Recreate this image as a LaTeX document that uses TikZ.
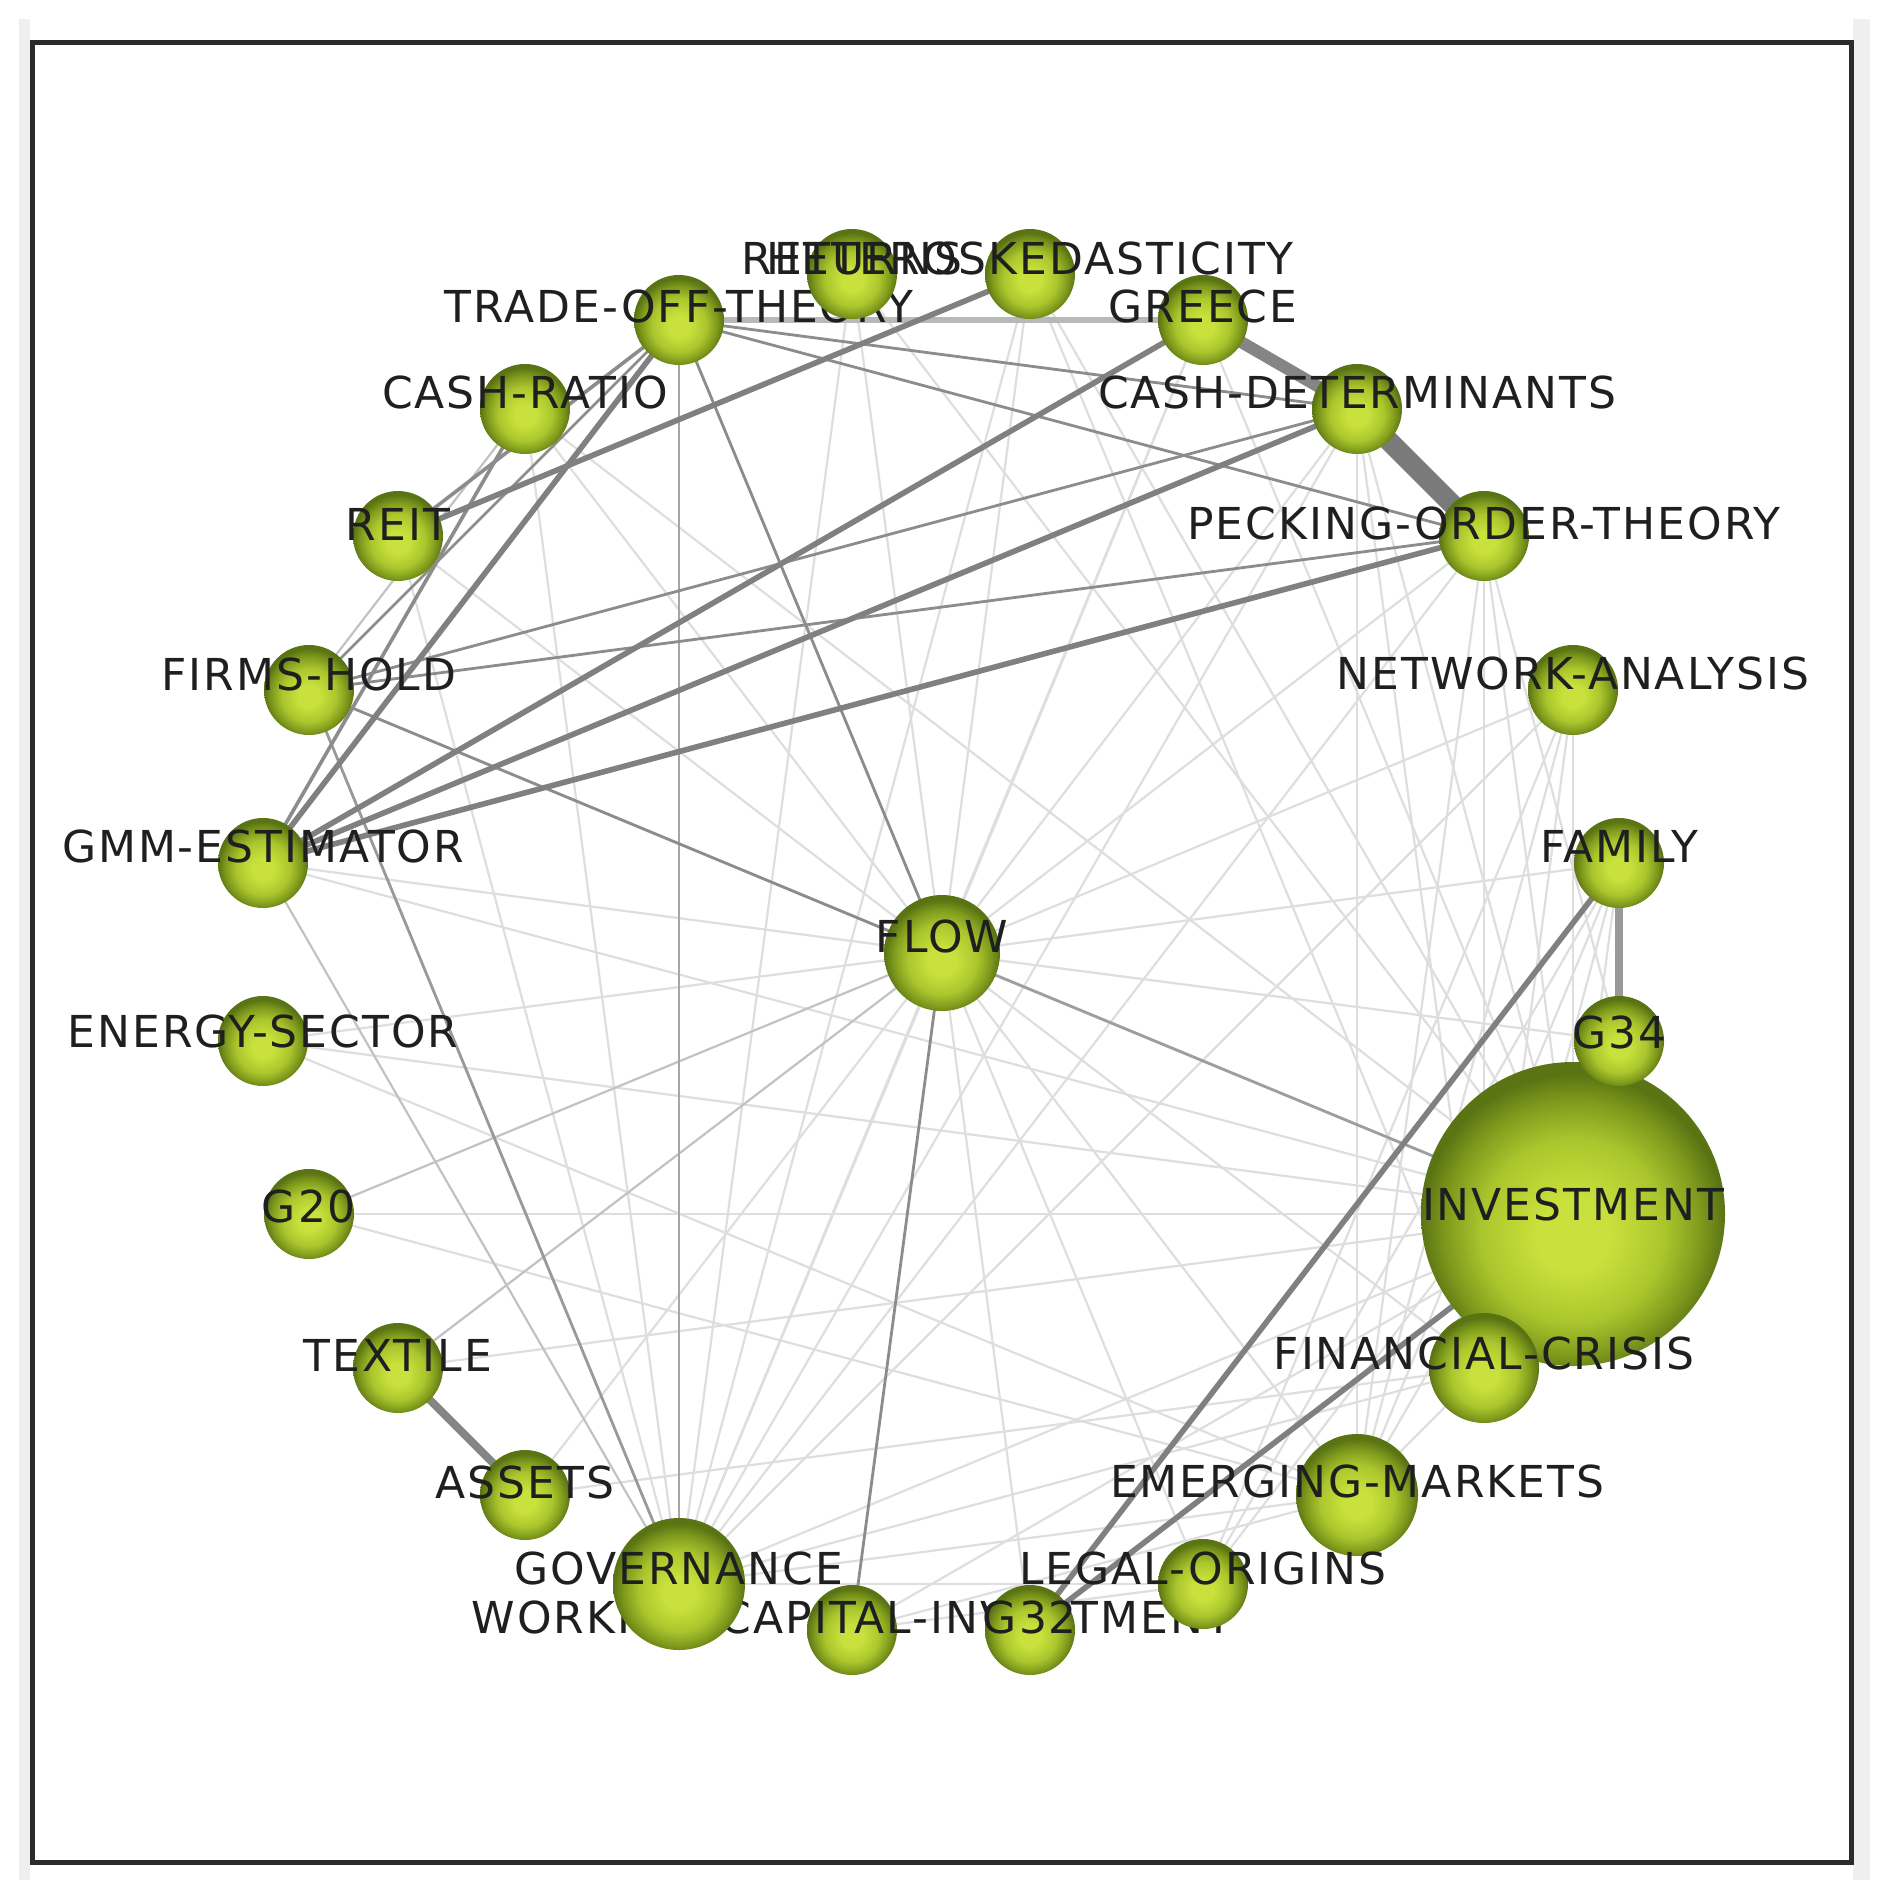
\documentclass[tikz,border=0pt]{standalone}
\usepackage{fontspec}
\setmainfont{DejaVu Sans}
\newfontfamily\lblfont[LetterSpace=4.5]{DejaVu Sans}
\definecolor{ballC}{HTML}{C9E13C}
\definecolor{ballM}{HTML}{ABC62D}
\definecolor{ballD}{HTML}{7F9A1C}
\definecolor{ballE}{HTML}{5A7414}
\definecolor{framec}{HTML}{2B2B2B}
\definecolor{stripc}{HTML}{EFEFEF}
\pgfdeclareradialshading{nodeball}{\pgfpoint{0bp}{-4bp}}{color(0bp)=(ballC); color(6bp)=(ballC); color(15bp)=(ballM); color(21bp)=(ballD); color(25bp)=(ballE); color(50bp)=(ballE)}
\pgfdeclarelayer{bglayer}
\pgfdeclarelayer{edgelayer}
\pgfsetlayers{bglayer,edgelayer,main}
\begin{document}
\begin{tikzpicture}[x=0.5pt,y=-0.5pt,
  ball/.style={circle, inner sep=0pt, shade, shading=nodeball, minimum size=45pt},
  lbl/.style={font=\lblfont\fontsize{22}{24}\selectfont, text=black!88, inner sep=0pt},
  lt/.style={draw=black!13, line width=1.1pt},
  lm/.style={draw=black!24, line width=1.1pt},
  md/.style={draw=black!45, line width=1.4pt},
  dk/.style={draw=black!50, line width=2.8pt},
]
\useasboundingbox (0,0) rectangle (1888,1899);
\begin{pgfonlayer}{bglayer}
\fill[white] (0,0) rectangle (1888,1899);
\fill[stripc] (19,19) rectangle (30,1880);
\fill[stripc] (1853,19) rectangle (1870,1880);
\end{pgfonlayer}
\draw[framec, line width=2.5pt] (32,43) rectangle (1851,1862);

% nodes with labels (drawing order matters)
\node[ball, minimum size=152pt] (INV) at (1573,1214) {};
\node[lbl] (INVt) at (1573,1204) {INVESTMENT};
\node[ball] (WCI) at (852,1630) {};
\node[lbl] (WCIt) at (852,1617) {WORKING-CAPITAL-INVESTMENT};
\node[ball, minimum size=66pt] (GOV) at (679,1584) {};
\node[lbl] (GOVt) at (679,1568) {GOVERNANCE};
\node[ball] (AST) at (525,1495) {};
\node[lbl] (ASTt) at (525,1482) {ASSETS};
\node[ball] (TEX) at (398,1368) {};
\node[lbl] (TEXt) at (398,1355) {TEXTILE};
\node[ball] (G20) at (309,1214) {};
\node[lbl] (G20t) at (309,1206) {G20};
\node[ball] (ENE) at (263,1041) {};
\node[lbl] (ENEt) at (263,1031) {ENERGY-SECTOR};
\node[ball] (GMM) at (263,863) {};
\node[lbl] (GMMt) at (263,846) {GMM-ESTIMATOR};
\node[ball] (FIR) at (309,690) {};
\node[lbl] (FIRt) at (309,674) {FIRMS-HOLD};
\node[ball] (REIT) at (398,536) {};
\node[lbl] (REITt) at (398,524) {REIT};
\node[ball] (CR) at (525,409) {};
\node[lbl] (CRt) at (525,392) {CASH-RATIO};
\node[ball] (TOT) at (679,320) {};
\node[lbl] (TOTt) at (679,306) {TRADE-OFF-THEORY};
\node[ball] (RET) at (852,274) {};
\node[lbl] (RETt) at (852,258) {RETURNS};
\node[ball] (HET) at (1030,274) {};
\node[lbl] (HETt) at (1030,258) {HETEROSKEDASTICITY};
\node[ball] (GRE) at (1203,320) {};
\node[lbl] (GREt) at (1203,306) {GREECE};
\node[ball] (CD) at (1357,409) {};
\node[lbl] (CDt) at (1357,392) {CASH-DETERMINANTS};
\node[ball] (POT) at (1484,536) {};
\node[lbl] (POTt) at (1484,523) {PECKING-ORDER-THEORY};
\node[ball] (NET) at (1573,690) {};
\node[lbl] (NETt) at (1573,673) {NETWORK-ANALYSIS};
\node[ball] (FAM) at (1619,863) {};
\node[lbl] (FAMt) at (1619,846) {FAMILY};
\node[ball] (G34) at (1619,1041) {};
\node[lbl] (G34t) at (1619,1032) {G34};
\node[ball, minimum size=55pt] (FIN) at (1484,1368) {};
\node[lbl] (FINt) at (1484,1353) {FINANCIAL-CRISIS};
\node[ball, minimum size=61pt] (EMG) at (1357,1495) {};
\node[lbl] (EMGt) at (1357,1481) {EMERGING-MARKETS};
\node[ball] (LEG) at (1203,1584) {};
\node[lbl] (LEGt) at (1203,1568) {LEGAL-ORIGINS};
\node[ball] (G32) at (1030,1630) {};
\node[lbl] (G32t) at (1030,1617) {G32};
\node[ball, minimum size=58pt] (FLOW) at (942,953) {};
\node[lbl] (FLOWt) at (942,936) {FLOW};

\begin{pgfonlayer}{edgelayer}
% light edges
\foreach \a in {RET,HET,GRE,CD,POT,NET,FAM,G34,FIN,EMG,LEG,G32,GOV,AST,ENE,GMM,REIT,CR}
  \draw[lt] (FLOW.center) -- (\a.center);
\foreach \a in {REIT,CR,RET,HET,GRE,CD,POT,NET,INV,FIN,EMG,LEG}
  \draw[lt] (GOV.center) -- (\a.center);
\foreach \a in {ENE,G20,GMM,FIR,CR,RET,HET,GRE,CD,POT,NET,FAM,WCI,TEX}
  \draw[lt] (INV.center) -- (\a.center);
\foreach \a in {CD,POT,NET,FAM,G34,FIN,WCI,ENE,G20}
  \draw[lt] (EMG.center) -- (\a.center);
\foreach \a in {POT,NET,FAM,G34,CD,HET,AST}
  \draw[lt] (FIN.center) -- (\a.center);
\foreach \a in {FAM,G34,WCI,NET}
  \draw[lt] (LEG.center) -- (\a.center);
\draw[lt] (G34.center) -- (POT.center);
\draw[lm] (FLOW.center) -- (TEX.center);
\draw[lm] (FLOW.center) -- (G20.center);
\draw[lm] (GOV.center) -- (GMM.center);
\draw[lm] (CR.center) -- (FIR.center);
% medium edges
\draw[md] (FLOW.center) -- (WCI.center);
\draw[md, draw=black!35] (TOT.center) -- (GOV.center);
\draw[md] (TOT.center) -- (POT.center);
\draw[md] (TOT.center) -- (FLOW.center);
\draw[md] (FIR.center) -- (FLOW.center);
\draw[md, draw=black!38] (FLOW.center) -- (INV.center);
\draw[md, draw=black!40] (FIR.center) -- (GOV.center);
\draw[md] (TOT.center) -- (CD.center);
\draw[md] (FIR.center) -- (POT.center);
\draw[md] (FIR.center) -- (CD.center);
\draw[md, line width=1.8pt] (CR.center) -- (GMM.center);
\draw[md] (TOT.center) -- (FIR.center);
\draw[md, line width=1.8pt] (REIT.center) -- (TOT.center);
% heavy edges
\draw[draw=black!52, line width=10pt] (CD.center) -- (POT.center);
\draw[draw=black!48, line width=6pt] (GRE.center) -- (CD.center);
\draw[draw=black!28, line width=2.8pt] (TOT.center) -- (GRE.center);
\draw[dk] (GMM.center) -- (GRE.center);
\draw[dk] (GMM.center) -- (CD.center);
\draw[dk] (GMM.center) -- (POT.center);
\draw[dk] (GMM.center) -- (TOT.center);
\draw[dk] (REIT.center) -- (HET.center);
\draw[draw=black!48, line width=4pt] (TEX.center) -- (AST.center);
\draw[draw=black!40, line width=3.8pt] (FAM.center) -- (G34.center);
\draw[dk] (FAM.center) -- (G32.center);
\draw[dk] (INV.center) -- (G32.center);
\end{pgfonlayer}
\end{tikzpicture}
\end{document}
